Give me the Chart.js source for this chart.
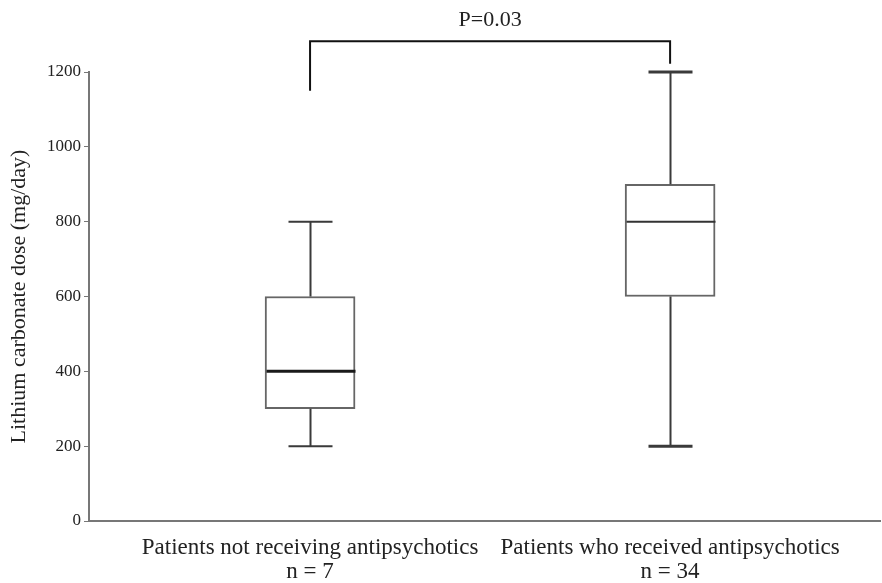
<!DOCTYPE html>
<html>
<head>
<meta charset="utf-8">
<script src="https://cdn.jsdelivr.net/npm/chart.js@4.4.0/dist/chart.umd.min.js"></script>
<style>
  html, body { margin: 0; padding: 0; background: #fff; }
  #wrap { width: 882px; height: 583px; }
</style>
</head>
<body>
<div id="wrap"><canvas id="box"></canvas></div>
<script>
// group data
var groups = ["Patients not receiving antipsychotics", "Patients who received antipsychotics"];
var counts = ["n = 7", "n = 34"];
var mins = [200, 200];
var q1 = [300, 600];
var medians = [400, 800];
var q3 = [600, 900];
var maxs = [800, 1200];
var yTicks = [0, 200, 400, 600, 800, 1000, 1200];
var pLabel = "P=0.03";

var serif = "'Liberation Serif', 'DejaVu Serif', serif";

// whiskers, caps, medians and the significance bracket
var boxExtras = {
  id: 'boxExtras',
  afterDatasetsDraw: function(chart) {
    var c = chart.ctx, xs = chart.scales.x, ys = chart.scales.y;
    c.save();
    c.lineCap = 'butt';
    for (var i = 0; i < groups.length; i++) {
      var cx = Math.round(xs.getPixelForValue(i + 1)) + 0.5;
      c.strokeStyle = '#3a3a3a';
      c.lineWidth = 2;
      c.beginPath();
      c.moveTo(cx, ys.getPixelForValue(q3[i]));
      c.lineTo(cx, ys.getPixelForValue(maxs[i]));
      c.moveTo(cx, ys.getPixelForValue(q1[i]));
      c.lineTo(cx, ys.getPixelForValue(mins[i]));
      c.stroke();
      c.lineWidth = i === 0 ? 2 : 3;
      c.beginPath();
      c.moveTo(cx - 22, ys.getPixelForValue(maxs[i]));
      c.lineTo(cx + 22, ys.getPixelForValue(maxs[i]));
      c.moveTo(cx - 22, ys.getPixelForValue(mins[i]));
      c.lineTo(cx + 22, ys.getPixelForValue(mins[i]));
      c.stroke();
      c.strokeStyle = i === 0 ? '#1a1a1a' : '#333';
      c.lineWidth = i === 0 ? 3 : 2;
      c.beginPath();
      c.moveTo(cx - 44, ys.getPixelForValue(medians[i]));
      c.lineTo(cx + 45, ys.getPixelForValue(medians[i]));
      c.stroke();
    }
    c.restore();
  },
  afterDraw: function(chart) {
    var c = chart.ctx, xs = chart.scales.x, ys = chart.scales.y;
    var x1 = xs.getPixelForValue(1), x2 = xs.getPixelForValue(2);
    var top = ys.getPixelForValue(1282);
    c.save();
    c.strokeStyle = '#111';
    c.lineWidth = 2;
    c.beginPath();
    c.moveTo(x1, ys.getPixelForValue(1150));
    c.lineTo(x1, top);
    c.lineTo(x2, top);
    c.lineTo(x2, ys.getPixelForValue(1222));
    c.stroke();
    c.fillStyle = '#222';
    c.font = "22px " + serif;
    c.textAlign = 'center';
    c.textBaseline = 'alphabetic';
    c.fillText(pLabel, (x1 + x2) / 2, 26);
    c.restore();
  }
};

new Chart(document.getElementById('box'), {
  type: 'bar',
  data: {
    datasets: [{
      data: groups.map(function(g, i) { return { x: i + 1, y: [q1[i], q3[i]] }; }),
      backgroundColor: '#fff',
      borderColor: '#666',
      borderWidth: 2,
      borderSkipped: false,
      barThickness: 90
    }]
  },
  options: {
    responsive: true,
    maintainAspectRatio: false,
    animation: false,
    layout: { padding: { top: 72, right: 2, left: 0, bottom: 0 } },
    plugins: { legend: { display: false }, tooltip: { enabled: false } },
    scales: {
      x: {
        type: 'linear',
        offset: false,
        bounds: 'ticks',
        min: 0.386,
        max: 2.583,
        grid: { display: false, offset: false },
        border: { display: true, color: '#777', width: 2 },
        afterBuildTicks: function(s) { s.ticks = groups.map(function(g, i) { return { value: i + 1 }; }); },
        afterFit: function(s) { s.height = 62; },
        ticks: {
          padding: 7,
          color: '#222',
          maxRotation: 0,
          autoSkip: false,
          font: { family: serif, size: 23, lineHeight: 1.05 },
          callback: function(v) { return [groups[v - 1], counts[v - 1]]; }
        }
      },
      y: {
        min: 0,
        max: 1200,
        afterBuildTicks: function(s) { s.ticks = yTicks.map(function(v) { return { value: v }; }); },
        afterFit: function(s) { s.width = 89; },
        grid: { drawOnChartArea: false, tickLength: 5, color: '#777', lineWidth: 1 },
        border: { display: true, color: '#777', width: 2 },
        ticks: {
          padding: 3,
          color: '#222',
          font: { family: serif, size: 17 },
          callback: function(v) { return String(v); }
        },
        title: {
          display: true,
          text: 'Lithium carbonate dose (mg/day)',
          color: '#222',
          padding: { top: 6, bottom: 2 },
          font: { family: serif, size: 22 }
        }
      }
    }
  },
  plugins: [boxExtras]
});
</script>
</body>
</html>
